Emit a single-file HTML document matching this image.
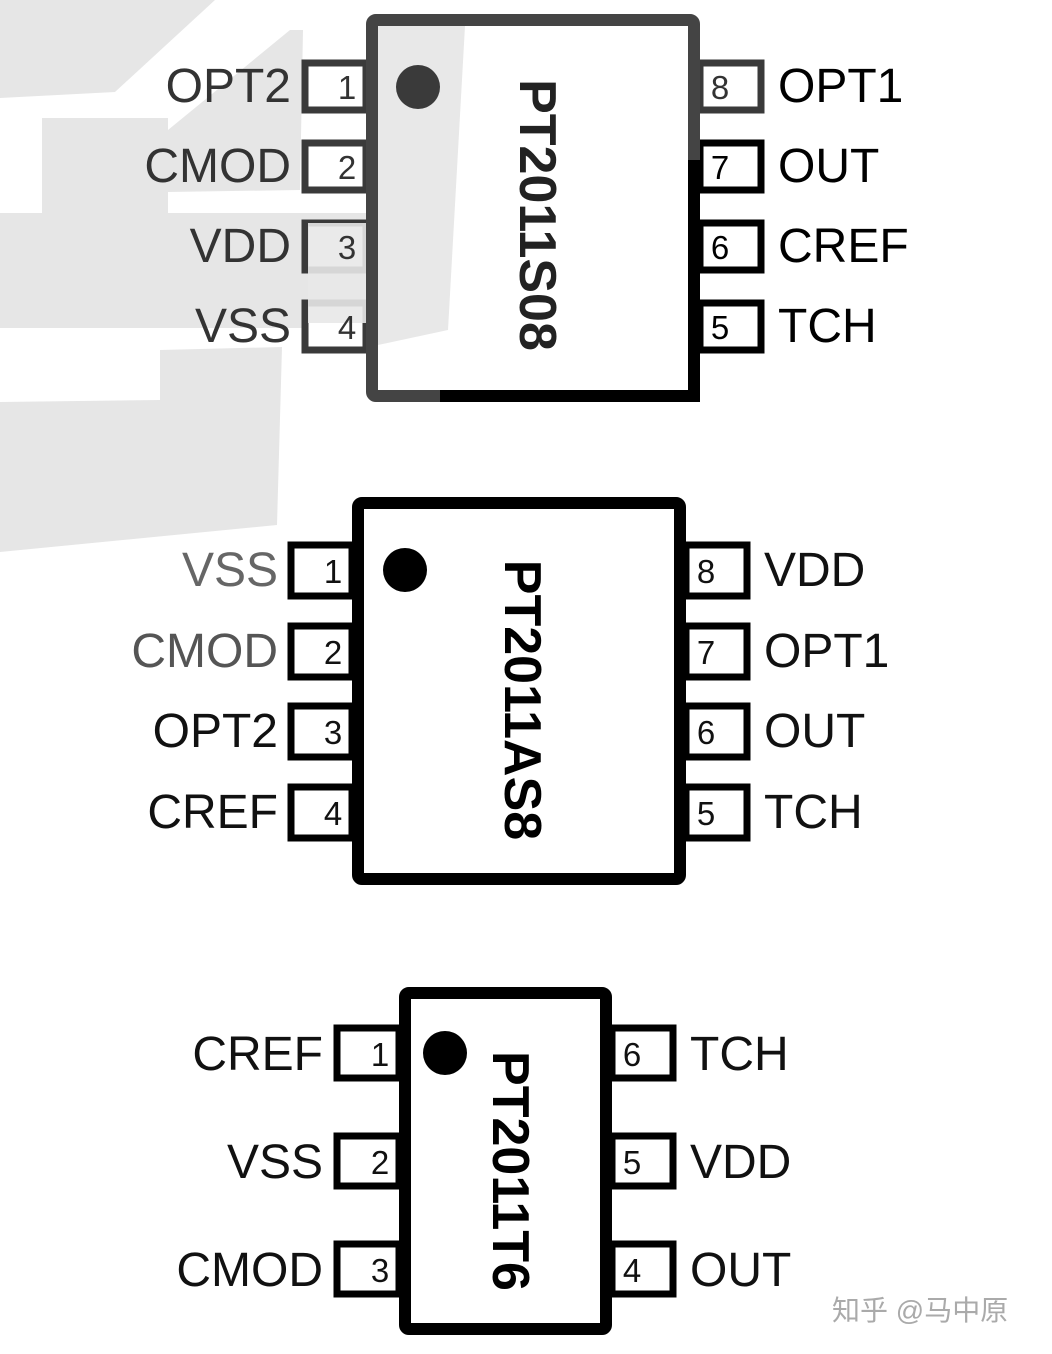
<!DOCTYPE html>
<html><head><meta charset="utf-8"><style>
html,body{margin:0;padding:0;background:#fff}
svg{display:block}
text{font-family:"Liberation Sans",Arial,sans-serif}
</style></head><body>
<svg width="1052" height="1354" viewBox="0 0 1052 1354" xmlns="http://www.w3.org/2000/svg">
<rect width="1052" height="1354" fill="#fff"/>
<g fill="#e6e6e6">
<polygon points="0,0 215,0 115,92 0,98"/>
<polygon points="0,118 42,118 42,213 168,213 168,192 300,190 303,30 290,30 168,130 168,118"/>
<rect x="0" y="213" width="366" height="115"/>
<polygon points="0,402 160,400 160,350 282,347 277,525 0,552"/>
</g>
<!-- Chip 1 -->
<g stroke="#3a3a3a" stroke-width="7" fill="#fff">
<rect x="305" y="63" width="61" height="47"/><rect x="305" y="143" width="61" height="47"/>
<rect x="305" y="223" width="61" height="47"/><rect x="305" y="303" width="61" height="47"/>
<rect x="700" y="63" width="61" height="47"/>
</g>
<g stroke="#000" stroke-width="7" fill="#fff">
<rect x="700" y="143" width="61" height="47"/>
<rect x="700" y="223" width="61" height="47"/><rect x="700" y="303" width="61" height="47"/>
</g>
<rect x="308" y="223" width="58" height="100" fill="#e8e8e8" opacity="0.9"/>
<rect x="372" y="20" width="322" height="376" rx="4" fill="#fff" stroke="#444" stroke-width="12"/>
<path d="M694 160 V396 H440" fill="none" stroke="#000" stroke-width="12"/>
<polygon points="378,26 465,26 448,330 378,345" fill="#e8e8e8"/>
<circle cx="418" cy="87" r="22" fill="#3a3a3a"/>
<text transform="translate(520,215) rotate(90)" text-anchor="middle" font-size="52" font-weight="bold" fill="#222">PT2011S08</text>
<g font-size="33" fill="#333" text-anchor="middle">
<text x="347" y="99">1</text><text x="347" y="179">2</text><text x="347" y="259">3</text><text x="347" y="339">4</text>
<text x="720" y="99">8</text><text x="720" y="179" fill="#000">7</text><text x="720" y="259" fill="#000">6</text><text x="720" y="339" fill="#000">5</text>
</g>
<g font-size="48" fill="#333" text-anchor="end">
<text x="291" y="102">OPT2</text><text x="291" y="182">CMOD</text><text x="291" y="262">VDD</text><text x="291" y="342">VSS</text>
</g>
<g font-size="48" fill="#000">
<text x="778" y="102">OPT1</text><text x="778" y="182">OUT</text><text x="778" y="262">CREF</text><text x="778" y="342">TCH</text>
</g>
<!-- Chip 2 -->
<g stroke="#000" stroke-width="7" fill="#fff">
<rect x="291" y="545" width="61" height="51"/><rect x="291" y="626" width="61" height="51"/>
<rect x="291" y="706" width="61" height="51"/><rect x="291" y="787" width="61" height="51"/>
<rect x="686" y="545" width="61" height="51"/><rect x="686" y="626" width="61" height="51"/>
<rect x="686" y="706" width="61" height="51"/><rect x="686" y="787" width="61" height="51"/>
</g>
<rect x="358" y="503" width="322" height="376" rx="4" fill="#fff" stroke="#000" stroke-width="12"/>
<circle cx="405" cy="570" r="22" fill="#000"/>
<text transform="translate(505,700) rotate(90)" text-anchor="middle" font-size="52" font-weight="bold" fill="#000">PT2011AS8</text>
<g font-size="33" fill="#111" text-anchor="middle">
<text x="333" y="583">1</text><text x="333" y="664">2</text><text x="333" y="744">3</text><text x="333" y="825">4</text>
<text x="706" y="583">8</text><text x="706" y="664">7</text><text x="706" y="744">6</text><text x="706" y="825">5</text>
</g>
<g font-size="48" text-anchor="end">
<text x="278" y="586" fill="#666">VSS</text><text x="278" y="667" fill="#555">CMOD</text><text x="278" y="747" fill="#111">OPT2</text><text x="278" y="828" fill="#111">CREF</text>
</g>
<g font-size="48" fill="#111">
<text x="764" y="586">VDD</text><text x="764" y="667">OPT1</text><text x="764" y="747">OUT</text><text x="764" y="828">TCH</text>
</g>
<!-- Chip 3 -->
<g stroke="#000" stroke-width="7" fill="#fff">
<rect x="337" y="1028" width="62" height="50"/><rect x="337" y="1136" width="62" height="50"/><rect x="337" y="1244" width="62" height="50"/>
<rect x="612" y="1028" width="61" height="50"/><rect x="612" y="1136" width="61" height="50"/><rect x="612" y="1244" width="61" height="50"/>
</g>
<rect x="405" y="993" width="201" height="336" rx="4" fill="#fff" stroke="#000" stroke-width="12"/>
<circle cx="445" cy="1053" r="22" fill="#000"/>
<text transform="translate(493,1171) rotate(90)" text-anchor="middle" font-size="52" font-weight="bold" fill="#000">PT2011T6</text>
<g font-size="33" fill="#111" text-anchor="middle">
<text x="380" y="1066">1</text><text x="380" y="1174">2</text><text x="380" y="1282">3</text>
<text x="632" y="1066">6</text><text x="632" y="1174">5</text><text x="632" y="1282">4</text>
</g>
<g font-size="48" fill="#111" text-anchor="end">
<text x="323" y="1070">CREF</text><text x="323" y="1178">VSS</text><text x="323" y="1286">CMOD</text>
</g>
<g font-size="48" fill="#111">
<text x="690" y="1070">TCH</text><text x="690" y="1178">VDD</text><text x="690" y="1286">OUT</text>
</g>
<text x="832" y="1320" font-size="28" fill="#aaa" style="font-family:'Liberation Sans','Noto Sans CJK SC',sans-serif">知乎 @马中原</text>
</svg>
</body></html>
